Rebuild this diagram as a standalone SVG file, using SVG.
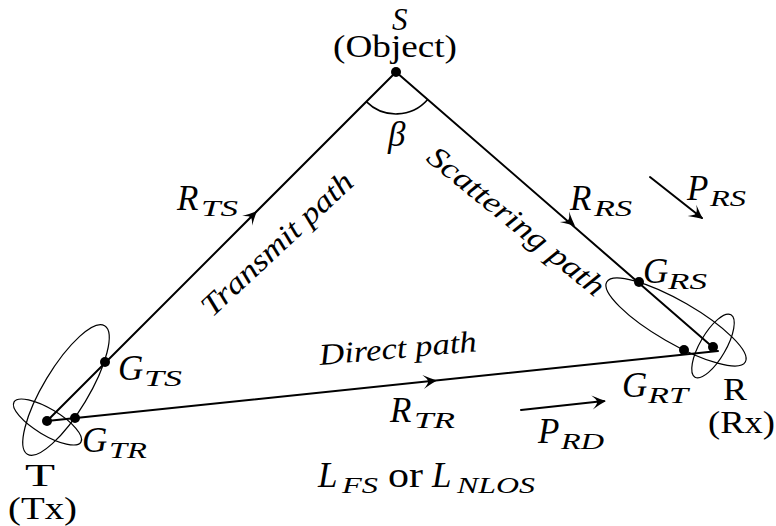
<svg xmlns="http://www.w3.org/2000/svg" xmlns:xlink="http://www.w3.org/1999/xlink" width="776" height="526" viewBox="0 0 776 526">
<style>
.ln{stroke:#000;stroke-width:2;fill:none;stroke-linecap:round}
.el{stroke:#000;stroke-width:1.2;fill:none}
.dot{fill:#000}
.m{font-family:"Liberation Serif","DejaVu Serif",serif;font-style:italic;font-size:35px;fill:#000}
.s{font-family:"Liberation Serif","DejaVu Serif",serif;font-style:italic;font-size:24px;fill:#000}
.r{font-family:"Liberation Serif","DejaVu Serif",serif;font-size:35px;fill:#000}
.rs{font-family:"Liberation Serif","DejaVu Serif",serif;font-size:32px;fill:#000}
.p{font-family:"Liberation Serif","DejaVu Serif",serif;font-style:italic;font-size:30px;fill:#000}
</style>
<defs>
<path id="ah" d="M0,0 Q-6,-2.5 -14,-7 Q-9,-2.5 -9,0 Q-9,2.5 -14,7 Q-6,2.5 0,0 Z" fill="#000"/>
</defs>
<rect width="776" height="526" fill="#fff"/>
<g id="connectors">
<path class="ln" d="M47,421 L396,72"/>
<path class="ln" d="M396,72 L716,350"/>
<path class="ln" d="M47,421 L718,351"/>
<use xlink:href="#ah" transform="translate(257,211) rotate(-45)"/>
<use xlink:href="#ah" transform="translate(575,226) rotate(40.9)"/>
<use xlink:href="#ah" transform="translate(437,380.5) rotate(-6)"/>
<path class="ln" d="M650,177 L702,218"/>
<use xlink:href="#ah" transform="translate(703,219) rotate(38)"/>
<path class="ln" d="M521,410 L604,401"/>
<use xlink:href="#ah" transform="translate(606,401) rotate(-6)"/>
<path d="M366.3,101.6 A42,42 0 0 0 427.7,99.5" stroke="#000" stroke-width="1.6" fill="none"/>
</g>
<g id="node-S">
<circle class="dot" cx="396" cy="72" r="5"/>
<text class="m" x="392" y="30" style="font-size:31px">S</text>
<text class="rs" x="333" y="57" textLength="124" lengthAdjust="spacingAndGlyphs">(Object)</text>
<text class="m" x="388" y="146">β</text>
</g>
<g id="node-T">
<ellipse class="el" cx="66" cy="390" rx="75" ry="22.5" transform="rotate(-59 66 390)"/>
<ellipse class="el" cx="47.5" cy="422" rx="39" ry="13" transform="rotate(31 47.5 422)"/>
<circle class="dot" cx="47" cy="421" r="5"/>
<circle class="dot" cx="75" cy="418" r="5"/>
<circle class="dot" cx="105" cy="362" r="5"/>
<text class="rs" x="25" y="486" textLength="30" lengthAdjust="spacingAndGlyphs">T</text>
<text class="rs" x="8" y="519" textLength="69" lengthAdjust="spacingAndGlyphs">(Tx)</text>
<text class="m" x="118" y="380">G</text><text class="s" x="144" y="386" textLength="38" lengthAdjust="spacingAndGlyphs">TS</text>
<text class="m" x="82" y="452">G</text><text class="s" x="109" y="458" textLength="38" lengthAdjust="spacingAndGlyphs">TR</text>
</g>
<g id="node-R">
<ellipse class="el" cx="676" cy="322" rx="80" ry="21" transform="rotate(30 676 322)"/>
<ellipse class="el" cx="713" cy="346" rx="36" ry="13" transform="rotate(-60 713 346)"/>
<circle class="dot" cx="713" cy="347" r="5"/>
<circle class="dot" cx="684" cy="350" r="5"/>
<circle class="dot" cx="639" cy="282" r="5"/>
<text class="rs" x="723" y="400" textLength="24" lengthAdjust="spacingAndGlyphs">R</text>
<text class="rs" x="708" y="433" textLength="67" lengthAdjust="spacingAndGlyphs">(Rx)</text>
<text class="m" x="643" y="283">G</text><text class="s" x="668" y="289" textLength="39" lengthAdjust="spacingAndGlyphs">RS</text>
<text class="m" x="622" y="397">G</text><text class="s" x="648" y="403" textLength="40" lengthAdjust="spacingAndGlyphs">RT</text>
</g>
<g id="labels">
<text class="m" x="177" y="210">R</text><text class="s" x="201" y="216" textLength="37" lengthAdjust="spacingAndGlyphs">TS</text>
<text class="m" x="570" y="210">R</text><text class="s" x="594" y="216" textLength="38" lengthAdjust="spacingAndGlyphs">RS</text>
<text class="m" x="687" y="200">P</text><text class="s" x="710" y="206" textLength="36" lengthAdjust="spacingAndGlyphs">RS</text>
<text class="m" x="390" y="422">R</text><text class="s" x="414" y="428" textLength="41" lengthAdjust="spacingAndGlyphs">TR</text>
<text class="m" x="538" y="443">P</text><text class="s" x="561" y="449" textLength="43" lengthAdjust="spacingAndGlyphs">RD</text>
<text class="m" x="318" y="487">L</text><text class="s" x="342" y="493" textLength="36" lengthAdjust="spacingAndGlyphs">FS</text>
<text class="r" x="388" y="487" textLength="35" lengthAdjust="spacingAndGlyphs">or</text>
<text class="m" x="432" y="487">L</text><text class="s" x="457" y="493" textLength="78" lengthAdjust="spacingAndGlyphs">NLOS</text>
<text class="p" transform="translate(320,365) rotate(-5)" textLength="158" lengthAdjust="spacingAndGlyphs">Direct path</text>
<text class="p" transform="translate(212,318) rotate(-43)" textLength="196" lengthAdjust="spacingAndGlyphs">Transmit path</text>
<text class="p" transform="translate(425,160) rotate(39)" textLength="219" lengthAdjust="spacingAndGlyphs">Scattering path</text>
</g>
</svg>
